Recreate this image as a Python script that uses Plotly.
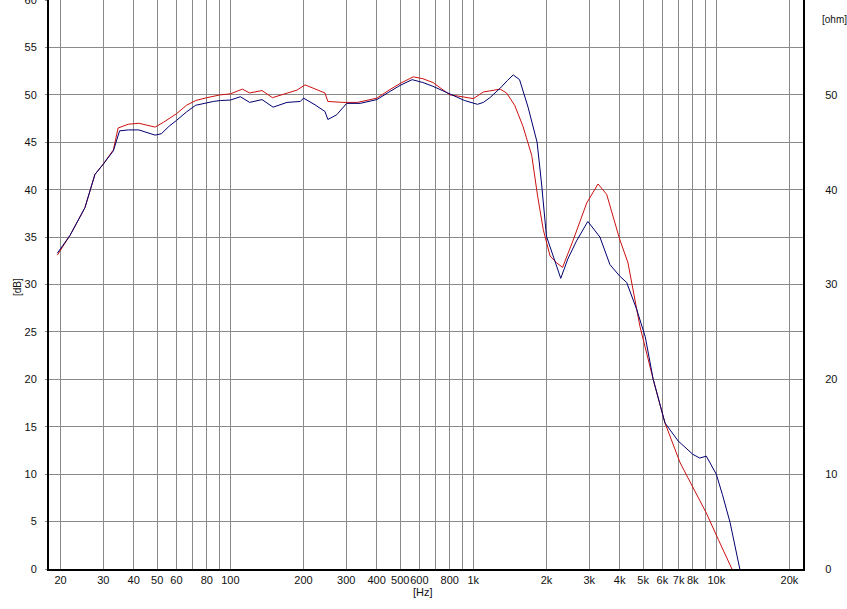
import plotly.graph_objects as go

# Blue (navy) response
blue_f = [19.4, 21.9, 25.2, 27.7, 30, 33, 35, 38, 42, 46, 49, 52, 56, 60, 66, 72, 78, 85, 91, 100,
          110, 120, 135, 150, 171, 194, 200, 223, 245, 252, 274, 301, 342, 401, 450, 500, 560, 620,
          682, 750, 826, 920, 1040, 1100, 1170, 1290, 1380, 1460, 1550, 1680, 1830, 1910, 2000,
          2170, 2290, 2450, 2660, 2960, 3320, 3650, 4000, 4280, 4700, 5100, 5500, 6150, 6970,
          8000, 8550, 9100, 10000, 10600, 11400, 12500]
blue_db = [33.3, 35.2, 38.1, 41.6, 42.7, 44.1, 46.2, 46.3, 46.3, 46.0, 45.75, 45.9, 46.7, 47.3, 48.2,
           48.9, 49.1, 49.3, 49.4, 49.45, 49.8, 49.2, 49.5, 48.7, 49.2, 49.3, 49.65, 48.95, 48.25,
           47.4, 47.9, 49.1, 49.1, 49.5, 50.3, 51.0, 51.6, 51.3, 50.9, 50.4, 49.9, 49.4, 49.0, 49.2,
           49.7, 50.7, 51.5, 52.1, 51.6, 48.7, 45.0, 40.6, 35.1, 32.3, 30.65, 32.7, 34.6, 36.65,
           35.0, 32.1, 30.9, 30.2, 27.4, 24.5, 20.0, 15.4, 13.5, 12.1, 11.7, 11.9, 10.0, 7.85, 4.9, 0]

# Red response
red_f = [19.4, 21.9, 25.2, 27.7, 30, 33, 34.5, 38, 42, 46, 49, 53, 60, 66, 72, 80, 91, 100, 112,
         120, 135, 149, 171, 188, 203, 219, 245, 252, 291, 333, 401, 450, 500, 566, 620, 682, 800,
         900, 1000, 1100, 1290, 1370, 1480, 1600, 1740, 1840, 1940, 2070, 2200, 2330, 2570, 2930,
         3260, 3540, 4000, 4330, 4850, 5500, 6150, 7100, 8000, 9100, 10200, 11600]
red_db = [33.1, 35.2, 38.1, 41.6, 42.7, 44.2, 46.5, 46.9, 47.0, 46.8, 46.6, 47.1, 48.0, 48.9, 49.4,
          49.7, 50.0, 50.1, 50.6, 50.2, 50.45, 49.7, 50.2, 50.5, 51.05, 50.7, 50.2, 49.3, 49.2, 49.2,
          49.65, 50.5, 51.2, 51.9, 51.7, 51.3, 50.0, 49.8, 49.6, 50.3, 50.6, 50.2, 48.9, 46.7, 43.6,
          39.3, 35.8, 33.0, 32.3, 31.8, 34.6, 38.6, 40.6, 39.5, 34.8, 32.3, 25.6, 20.0, 15.4, 11.2,
          8.7, 5.9, 3.1, 0]

x_tickvals = [20, 30, 40, 50, 60, 70, 80, 90, 100, 200, 300, 400, 500, 600, 700, 800, 900, 1000,
              2000, 3000, 4000, 5000, 6000, 7000, 8000, 9000, 10000, 20000]
x_ticktext = ["20", "30", "40", "50", "60", "", "80", "", "100", "200", "300", "400", "500", "600",
              "", "800", "", "1k", "2k", "3k", "4k", "5k", "6k", "7k", "8k", "", "10k", "20k"]
y_tickvals = list(range(0, 61, 5))
y2_tickvals = [0, 10, 20, 30, 40, 50]

FONT = "Liberation Sans, Arial, sans-serif"
TXT = "#111111"
GRID = "#8a8a8a"

fig = go.Figure()
fig.add_trace(go.Scatter(x=red_f, y=red_db, mode="lines",
                         line=dict(color="#cc1010", width=1), hoverinfo="skip"))
fig.add_trace(go.Scatter(x=blue_f, y=blue_db, mode="lines",
                         line=dict(color="#000070", width=1), hoverinfo="skip"))
fig.add_trace(go.Scatter(x=blue_f, y=blue_db, mode="lines", yaxis="y2", opacity=0,
                         line=dict(width=0), hoverinfo="skip", showlegend=False))

fig.update_layout(
    width=847, height=609,
    margin=dict(l=49, r=44, t=0, b=40, pad=0, autoexpand=False),
    paper_bgcolor="white", plot_bgcolor="white",
    showlegend=False,
    hovermode=False,
    font=dict(family=FONT, size=11, color=TXT),
    xaxis=dict(type="log", range=[1.2535, 4.357], automargin=False,
               tickvals=x_tickvals, ticktext=x_ticktext,
               showgrid=True, gridcolor=GRID, gridwidth=1,
               showline=True, linecolor="black", linewidth=2,
               ticks="", zeroline=False, tickangle=0,
               tickfont=dict(family=FONT, size=11, color=TXT)),
    yaxis=dict(range=[0, 60], tickvals=y_tickvals, automargin=False,
               showgrid=True, gridcolor=GRID, gridwidth=1,
               showline=True, linecolor="black", linewidth=2,
               ticks="outside", ticklen=2, tickcolor=GRID,
               ticklabelstandoff=6, zeroline=False, ticklabeloverflow="allow",
               tickfont=dict(family=FONT, size=11, color=TXT)),
    yaxis2=dict(range=[0, 60], tickvals=y2_tickvals, overlaying="y", side="right",
                automargin=False,
                showgrid=False, showline=True, linecolor="black", linewidth=2,
                ticks="", ticklabelstandoff=18, zeroline=False, ticklabeloverflow="allow",
                tickfont=dict(family=FONT, size=11, color=TXT)),
    annotations=[
        dict(text="[Hz]", xref="paper", yref="paper", x=0.496, y=-0.0404,
             xanchor="center", yanchor="middle", showarrow=False,
             font=dict(family=FONT, size=11, color=TXT)),
        dict(text="[dB]", xref="paper", yref="paper", x=(17 - 49) / 754, y=1 - 287 / 569,
             xanchor="center", yanchor="middle", textangle=-90, showarrow=False,
             font=dict(family=FONT, size=10, color=TXT)),
        dict(text="[ohm]", xref="paper", yref="paper", x=(834 - 49) / 754, y=1 - 20 / 569,
             xanchor="center", yanchor="middle", showarrow=False,
             font=dict(family=FONT, size=10, color=TXT)),
    ],
)

fig.write_html("out.html", config={"displayModeBar": False, "staticPlot": True},
               post_script="document.body.style.margin='0';document.body.style.overflow='hidden';")
